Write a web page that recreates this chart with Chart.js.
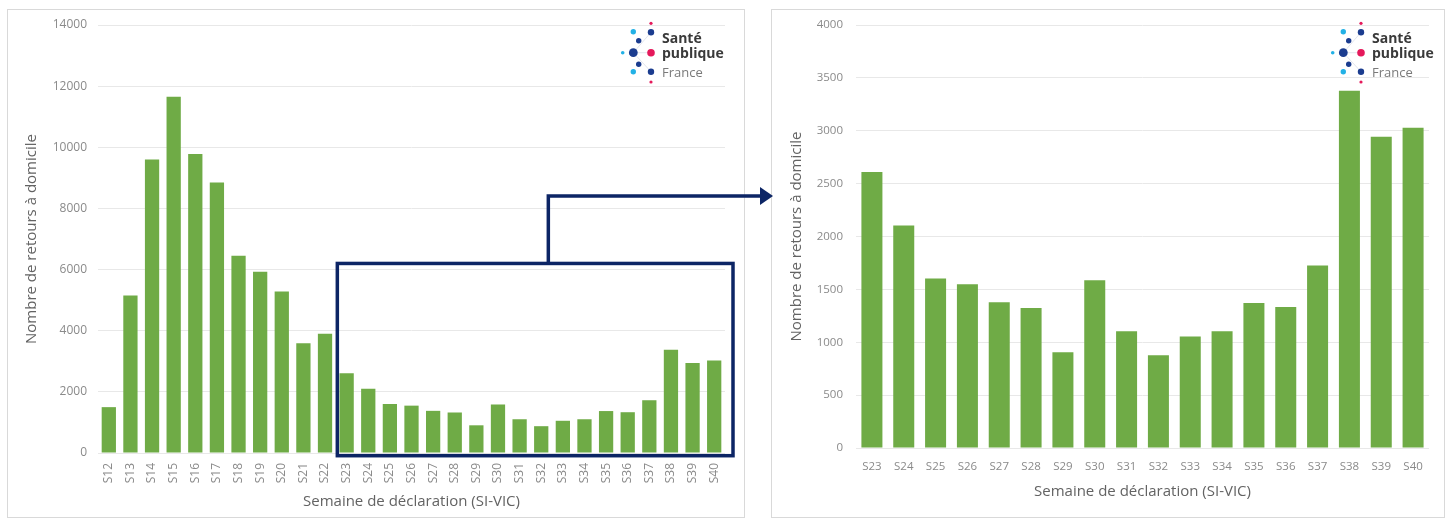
<!DOCTYPE html>
<html lang="fr">
<head>
<meta charset="utf-8">
<title>Retours à domicile par semaine de déclaration</title>
<script src="https://cdn.jsdelivr.net/npm/chart.js@4.4.1/dist/chart.umd.min.js"></script>
<style>
  html, body { margin: 0; padding: 0; background: #fff; width: 1451px; height: 519px; overflow: hidden; }
  .panel { position: absolute; border: 1px solid #d9d9d9; box-sizing: border-box; }
  canvas { position: absolute; top: 0; }
</style>
</head>
<body>
<div class="panel" style="left:7px;top:9px;width:738px;height:509px"></div>
<div class="panel" style="left:771px;top:9px;width:674px;height:509px"></div>
<canvas id="overview" width="780" height="519" style="left:0;z-index:2"></canvas>
<canvas id="detail" width="679" height="519" style="left:772px;z-index:1"></canvas>

<script>
// Weekly home returns (SI-VIC), whole period
const allWeeks = ['S12','S13','S14','S15','S16','S17','S18','S19','S20','S21','S22',
                  'S23','S24','S25','S26','S27','S28','S29','S30','S31','S32','S33',
                  'S34','S35','S36','S37','S38','S39','S40'];
const allReturns = [1500, 5150, 9600, 11650, 9780, 8850, 6450, 5930, 5280, 3590, 3900,
                    2610, 2105, 1603, 1549, 1379, 1325, 906, 1587, 1104, 877, 1054,
                    1104, 1372, 1334, 1726, 3378, 2943, 3028];

// Close-up on the most recent weeks
const recentWeeks = ['S23','S24','S25','S26','S27','S28','S29','S30','S31','S32','S33',
                     'S34','S35','S36','S37','S38','S39','S40'];
const recentReturns = [2610, 2105, 1603, 1549, 1379, 1325, 906, 1587, 1104, 877, 1054,
                       1104, 1372, 1334, 1726, 3378, 2943, 3028];

// Axis tick values
const overviewTicks = [0, 2000, 4000, 6000, 8000, 10000, 12000, 14000];
const detailTicks = [0, 500, 1000, 1500, 2000, 2500, 3000, 3500, 4000];

// Zoomed range highlighted on the overview
const zoomFirst = 'S23';
const zoomLast = 'S40';
const zoomCeiling = 6200;

const FONT = '"Open Sans", "DejaVu Sans", sans-serif';
const BAR = '#6fab46';
const GRID = '#e8e8e8';
const TICK = '#8a8a8a';
const TITLE = '#636363';
const NAVY = '#0c2565';

Chart.defaults.font.family = FONT;
Chart.defaults.devicePixelRatio = 1;

// Santé publique France mark
function drawLogo(ctx, cx, cy) {
  const dark = '#1b3c8f', light = '#22b1e6', pink = '#e5195b';
  const dots = [
    [0, -29.4, 1.6, pink], [0, -20.4, 3.2, dark], [-17.7, -21, 2.7, light],
    [-12.3, -12, 2.7, dark], [-28.3, 0, 1.8, light], [-17.7, 0, 4.4, dark],
    [0, 0, 3.8, pink], [-12.3, 11.6, 2.7, dark], [-17.7, 19, 2.7, light],
    [0, 19, 3.2, dark], [0, 29.3, 1.6, pink]
  ];
  ctx.save();
  ctx.strokeStyle = 'rgba(150,160,190,0.35)';
  ctx.lineWidth = 0.8;
  ctx.beginPath();
  ctx.moveTo(cx - 17.7, cy); ctx.lineTo(cx, cy);
  ctx.moveTo(cx - 17.7, cy); ctx.lineTo(cx, cy - 20.4);
  ctx.moveTo(cx - 17.7, cy); ctx.lineTo(cx, cy + 19);
  ctx.stroke();
  dots.forEach(([dx, dy, r, c]) => {
    ctx.beginPath();
    ctx.arc(cx + dx, cy + dy, r, 0, Math.PI * 2);
    ctx.fillStyle = c;
    ctx.fill();
  });
  ctx.textAlign = 'left';
  ctx.textBaseline = 'alphabetic';
  ctx.fillStyle = '#3a3a3a';
  ctx.font = 'bold 14px ' + FONT;
  ctx.fillText('Santé', cx + 11, cy - 10);
  ctx.fillText('publique', cx + 11, cy + 5.6);
  ctx.fillStyle = '#7a7a7a';
  ctx.font = '13px ' + FONT;
  ctx.fillText('France', cx + 11, cy + 24.3);
  ctx.restore();
}

const logoPlugin = {
  id: 'spfLogo',
  afterDraw(chart, args, opts) {
    const a = chart.chartArea;
    drawLogo(chart.ctx, a.right + opts.dx, a.top + opts.dy);
  }
};

// Frame around the zoomed weeks, with the arrow leading to the close-up
const zoomFramePlugin = {
  id: 'zoomFrame',
  afterDatasetsDraw(chart) {
    const xs = chart.scales.x, ys = chart.scales.y;
    const half = (xs.getPixelForValue(1) - xs.getPixelForValue(0)) / 2;
    const left = xs.getPixelForValue(allWeeks.indexOf(zoomFirst)) - half + 1.5;
    const right = xs.getPixelForValue(allWeeks.indexOf(zoomLast)) + half + 8;
    const top = ys.getPixelForValue(zoomCeiling);
    const bottom = ys.getPixelForValue(0) + 2.7;
    const ctx = chart.ctx;
    ctx.save();
    ctx.strokeStyle = NAVY;
    ctx.fillStyle = NAVY;
    ctx.lineWidth = 3.5;
    ctx.lineJoin = 'miter';
    ctx.strokeRect(left, top, right - left, bottom - top);
    const stemX = left + 211;
    const armY = top - 67.5;
    const tipX = 773;
    ctx.beginPath();
    ctx.moveTo(stemX, top);
    ctx.lineTo(stemX, armY);
    ctx.lineTo(tipX - 12, armY);
    ctx.stroke();
    ctx.beginPath();
    ctx.moveTo(tipX - 13, armY - 9);
    ctx.lineTo(tipX, armY);
    ctx.lineTo(tipX - 13, armY + 9);
    ctx.closePath();
    ctx.fill();
    ctx.restore();
  }
};

function tickList(values) {
  return scale => { scale.ticks = values.map(v => ({ value: v })); };
}
const plainNumber = v => String(v);

new Chart(document.getElementById('overview'), {
  type: 'bar',
  data: {
    labels: allWeeks,
    datasets: [{ data: allReturns, backgroundColor: BAR, barPercentage: 0.66, categoryPercentage: 1 }]
  },
  options: {
    responsive: false,
    animation: false,
    layout: { padding: { left: 0, top: 25, right: 55, bottom: 0 } },
    plugins: {
      legend: { display: false },
      tooltip: { enabled: false },
      spfLogo: { dx: -74, dy: 27.7 }
    },
    scales: {
      x: {
        grid: { display: false, drawTicks: false },
        border: { display: false },
        ticks: { autoSkip: false, minRotation: 90, maxRotation: 90, padding: 10, color: TICK, font: { size: 12 } },
        title: { display: true, text: 'Semaine de déclaration (SI-VIC)', color: TITLE, font: { size: 15 }, padding: { top: 0, bottom: 8 } },
        afterFit(s) { s.height = 66; }
      },
      y: {
        min: 0, max: 14000,
        afterBuildTicks: tickList(overviewTicks),
        grid: { color: GRID, drawTicks: false },
        border: { display: false },
        ticks: { padding: 11, color: TICK, font: { size: 12 }, callback: plainNumber },
        title: { display: true, text: 'Nombre de retours à domicile', color: TITLE, font: { size: 15 }, padding: { top: 23, bottom: 0 } },
        afterFit(s) { s.width = 98; }
      }
    }
  },
  plugins: [zoomFramePlugin, logoPlugin]
});

new Chart(document.getElementById('detail'), {
  type: 'bar',
  data: {
    labels: recentWeeks,
    datasets: [{ data: recentReturns, backgroundColor: BAR, barPercentage: 0.66, categoryPercentage: 1 }]
  },
  options: {
    responsive: false,
    animation: false,
    layout: { padding: { left: 0, top: 25, right: 22, bottom: 0 } },
    plugins: {
      legend: { display: false },
      tooltip: { enabled: false },
      spfLogo: { dx: -68, dy: 27.7 }
    },
    scales: {
      x: {
        grid: { display: false, drawTicks: false },
        border: { display: false },
        ticks: { autoSkip: false, maxRotation: 0, padding: 12, color: TICK, font: { size: 11.5 } },
        title: { display: true, text: 'Semaine de déclaration (SI-VIC)', color: TITLE, font: { size: 15 }, padding: { top: 0, bottom: 18 } },
        afterFit(s) { s.height = 71; }
      },
      y: {
        min: 0, max: 4000,
        afterBuildTicks: tickList(detailTicks),
        grid: { color: GRID, drawTicks: false },
        border: { display: false },
        ticks: { padding: 13, color: TICK, font: { size: 11.5 }, callback: plainNumber },
        title: { display: true, text: 'Nombre de retours à domicile', color: TITLE, font: { size: 15 }, padding: { top: 16, bottom: 0 } },
        afterFit(s) { s.width = 84; }
      }
    }
  },
  plugins: [logoPlugin]
});
</script>
</body>
</html>
